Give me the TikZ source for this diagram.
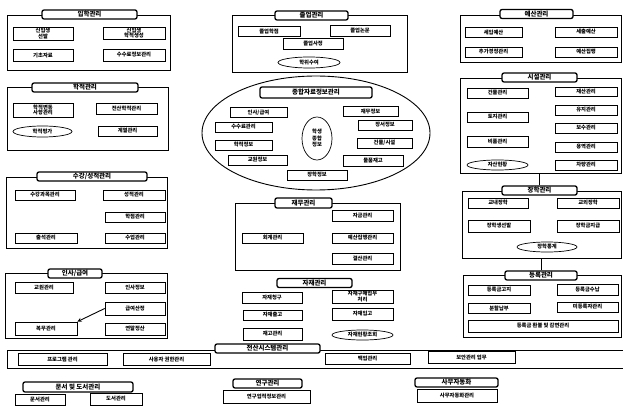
\documentclass[tikz,border=0pt]{standalone}
\usepackage{fontspec}
\newfontfamily\kr{Noto Sans CJK KR}
\usetikzlibrary{shapes.geometric}
\tikzset{
  frm/.style={draw, line width=0.9pt, inner sep=0pt},
  itm/.style={draw, line width=0.7pt, inner sep=0pt, align=center, fill=white,
     font=\kr\fontsize{5.3}{5.8}\selectfont\bfseries},
  ell/.style={itm, ellipse},
  ttl/.style={draw, line width=1.3pt, rounded corners=2pt, inner sep=0pt, fill=white,
     align=center, font=\kr\fontsize{6.5}{7}\selectfont\bfseries},
  conn/.style={line width=0.9pt}
}
\begin{document}
\begin{tikzpicture}[x=1pt,y=-1pt]
\useasboundingbox (0,0) rectangle (623,406);
% ---------- Box A ----------
\node[frm, minimum width=163, minimum height=55] (fA) at (88.5,42.5) {};
\node[ttl, minimum width=95, minimum height=9] (tA) at (89.5,14.5) {입학관리};
\node[itm, minimum width=60, minimum height=13] (a1) at (43,33.5) {신입생\\선발};
\node[itm, minimum width=62, minimum height=12] (a2) at (134,33) {신입생\\학적생성};
\node[itm, minimum width=60, minimum height=12] (a3) at (43,55.5) {기초자료};
\node[itm, minimum width=62, minimum height=12] (a4) at (134,55) {수수료정보관리};
% ---------- Box B ----------
\node[frm, minimum width=161, minimum height=63] (fB) at (87.5,118.5) {};
\node[ttl, minimum width=106, minimum height=9] (tB) at (85,87.5) {학적관리};
\node[itm, minimum width=60, minimum height=14] (b1) at (43,110) {학적변동\\사항관리};
\node[itm, minimum width=61, minimum height=11] (b2) at (126.5,108.5) {전산학적관리};
\node[ell, minimum width=59, minimum height=11] (b3) at (42.5,131.5) {학적평가};
\node[itm, minimum width=59, minimum height=10] (b4) at (127.5,131) {계열관리};
% ---------- Box C ----------
\node[frm, minimum width=161, minimum height=71] (fC) at (86.5,212.5) {};
\node[ttl, minimum width=110, minimum height=9] (tC) at (92,176.5) {수강/성적관리};
\node[itm, minimum width=60, minimum height=10] (c1) at (45,195) {수강과목관리};
\node[itm, minimum width=62, minimum height=10] (c2) at (134,195) {성적관리};
\node[itm, minimum width=60, minimum height=10] (c3) at (135,217) {학점관리};
\node[itm, minimum width=62, minimum height=10] (c4) at (46,238) {출석관리};
\node[itm, minimum width=60, minimum height=10] (c5) at (135,238) {수업관리};
% ---------- Box D ----------
\node[frm, minimum width=162, minimum height=65] (fD) at (86,305.5) {};
\node[ttl, minimum width=54, minimum height=9] (tD) at (75,273.5) {인사/급여};
\node[itm, minimum width=58, minimum height=11] (d1) at (44,287.5) {교원관리};
\node[itm, minimum width=60, minimum height=11] (d2) at (135,287.5) {인사정보};
\node[itm, minimum width=60, minimum height=13] (d3) at (135,308.5) {급여산정};
\node[itm, minimum width=62, minimum height=13] (d4) at (46,328.5) {복무관리};
\node[itm, minimum width=60, minimum height=12] (d5) at (135,329) {연말정산};
\draw[conn, ->, >=stealth] (d3.west) -- (d4.north east);
% ---------- Top centre ----------
\node[frm, minimum width=175, minimum height=57] (fE) at (319.5,43.5) {};
\node[ttl, minimum width=73, minimum height=9] (tE) at (311.5,15.5) {졸업관리};
\node[itm, minimum width=62, minimum height=10] (e1) at (269,31.5) {졸업학점};
\node[itm, minimum width=60, minimum height=11] (e2) at (360,30.5) {졸업논문};
\node[itm, minimum width=60, minimum height=11] (e3) at (313,44) {졸업사정};
\node[ell, minimum width=62, minimum height=11] (e4) at (309,62.5) {학위수여};
% ---------- Big ellipse ----------
\node[draw, ellipse, line width=0.9pt, minimum width=228, minimum height=114, inner sep=0pt] (G) at (316,133) {};
\node[ttl, minimum width=112, minimum height=11] (tG) at (316,92.5) {종합자료정보관리};
\node[itm, minimum width=57, minimum height=10] (g1) at (258.5,112.5) {인사/급여};
\node[itm, minimum width=57, minimum height=10] (g2) at (243.5,127) {수수료관리};
\node[itm, minimum width=57, minimum height=10] (g3) at (243.5,145) {학적정보};
\node[itm, minimum width=59, minimum height=10] (g4) at (257.5,160) {교원정보};
\node[itm, minimum width=55, minimum height=10] (g5) at (370.5,111.5) {재무정보};
\node[itm, minimum width=54, minimum height=10] (g6) at (385,125) {장서정보};
\node[itm, minimum width=55, minimum height=10] (g7) at (384.5,143) {건물/시설};
\node[itm, minimum width=60, minimum height=11] (g8) at (373,160.5) {물품재고};
\node[itm, minimum width=60, minimum height=10] (g9) at (317,175) {장학정보};
\node[ell, minimum width=30, minimum height=43, font=\kr\fontsize{5.3}{6.5}\selectfont\bfseries] (gc) at (317,138.5) {학생\\종합\\정보};
% ---------- Finance ----------
\node[frm, minimum width=165, minimum height=67] (fH) at (317.5,236.5) {};
\node[ttl, minimum width=57, minimum height=10] (tH) at (303.5,203) {재무관리};
\node[itm, minimum width=61, minimum height=10] (h1) at (272.5,238) {회계관리};
\node[itm, minimum width=61, minimum height=11] (h2) at (362.5,216) {자금관리};
\node[itm, minimum width=61, minimum height=10] (h3) at (362.5,238) {예산집행관리};
\node[itm, minimum width=61, minimum height=11] (h4) at (362.5,259) {결산관리};
% ---------- Materials ----------
\node[ttl, minimum width=75, minimum height=9] (tI) at (314.5,283) {자재관리};
\node[itm, minimum width=60, minimum height=11] (i1) at (272,297.5) {자재청구};
\node[itm, minimum width=61, minimum height=13] (i2) at (362.5,296.5) {자재구매업무\\처리};
\node[itm, minimum width=59, minimum height=10] (i3) at (272.5,315) {자재출고};
\node[itm, minimum width=61, minimum height=12] (i4) at (362.5,314) {자재입고};
\node[itm, minimum width=59, minimum height=12] (i5) at (272.5,334) {재고관리};
\node[ell, minimum width=61, minimum height=10] (i6) at (362.5,335) {자재현황조회};
% ---------- Bottom band ----------
\node[frm, minimum width=616, minimum height=18] (fJ) at (315,359) {};
\node[ttl, minimum width=105, minimum height=9] (tJ) at (267.5,348.5) {전산시스템관리};
\node[itm, minimum width=89, minimum height=12] (j1) at (62.5,359.5) {프로그램 관리};
\node[itm, minimum width=87, minimum height=12] (j2) at (166.5,359.5) {사용자 권한관리};
\node[itm, minimum width=85, minimum height=11] (j3) at (367.5,358.5) {백업관리};
\node[itm, minimum width=87, minimum height=12] (j4) at (471.5,357.5) {보안관리 업무};
% ---------- Bottom groups ----------
\node[ttl, minimum width=110, minimum height=10] (tK) at (78,387) {문서 및 도서관리};
\node[itm, minimum width=50, minimum height=11] (k1) at (40,399.5) {문서관리};
\node[itm, minimum width=52, minimum height=12] (k2) at (116,399) {도서관리};
\node[ttl, minimum width=69, minimum height=9] (tL) at (267.5,383.5) {연구관리};
\node[itm, minimum width=87, minimum height=13] (l1) at (266.5,397) {연구업적정보관리};
\node[ttl, minimum width=83, minimum height=9] (tM) at (456.5,382.5) {사무자동화};
\node[itm, minimum width=80, minimum height=13] (m1) at (457,396) {사무자동화관리};
% ---------- Right top ----------
\node[frm, minimum width=161, minimum height=47] (fN) at (540.5,38.5) {};
\node[ttl, minimum width=73, minimum height=9] (tN) at (536.5,14) {예산관리};
\node[itm, minimum width=57, minimum height=10] (n1) at (493.5,32.5) {세입예산};
\node[itm, minimum width=62, minimum height=10] (n2) at (586,32) {세출예산};
\node[itm, minimum width=57, minimum height=10] (n3) at (493.5,52) {추가경정관리};
\node[itm, minimum width=62, minimum height=10] (n4) at (586,52) {예산집행};
% ---------- Right 2 ----------
\node[frm, minimum width=161, minimum height=95] (fO) at (540.5,125.5) {};
\node[ttl, minimum width=75, minimum height=9] (tO) at (539.5,77.5) {시설관리};
\node[itm, minimum width=61, minimum height=10] (o1) at (497.5,93) {건물관리};
\node[itm, minimum width=61, minimum height=10] (o2) at (497.5,117) {토지관리};
\node[itm, minimum width=61, minimum height=11] (o3) at (497.5,141.5) {비품관리};
\node[ell, minimum width=61, minimum height=10] (o4) at (497.5,165) {자산현황};
\node[itm, minimum width=62, minimum height=9] (o5) at (586,91.5) {재산관리};
\node[itm, minimum width=62, minimum height=10] (o6) at (586,110) {유지관리};
\node[itm, minimum width=62, minimum height=10] (o7) at (586,128) {보수관리};
\node[itm, minimum width=62, minimum height=10] (o8) at (586,147) {용역관리};
\node[itm, minimum width=62, minimum height=10] (o9) at (586,165) {차량관리};
% ---------- Right 3 ----------
\node[frm, minimum width=159, minimum height=67] (fP) at (541.5,224.5) {};
\node[ttl, minimum width=75, minimum height=9] (tP) at (539.5,190.5) {장학관리};
\node[itm, minimum width=60, minimum height=10] (p1) at (498,203) {교내장학};
\node[itm, minimum width=62, minimum height=10] (p2) at (588,203) {교외장학};
\node[itm, minimum width=62, minimum height=12] (p3) at (499,226) {장학생선발};
\node[itm, minimum width=62, minimum height=12] (p4) at (588,226) {장학금지급};
\node[ell, minimum width=60, minimum height=10] (p5) at (547,247) {장학통계};
% ---------- Right 4 ----------
\node[frm, minimum width=158, minimum height=62] (fQ) at (542,306) {};
\node[ttl, minimum width=72, minimum height=9] (tQ) at (541,275.5) {등록관리};
\node[itm, minimum width=62, minimum height=10] (q1) at (499,290) {등록금고지};
\node[itm, minimum width=61, minimum height=11] (q2) at (587.5,289.5) {등록금수납};
\node[itm, minimum width=62, minimum height=10] (q3) at (499,308) {분할납부};
\node[itm, minimum width=61, minimum height=10] (q4) at (587.5,307) {미등록자관리};
\node[itm, minimum width=150, minimum height=12] (q5) at (543,326) {등록금 환불 및 감면관리};
% ---------- connectors ----------
\draw[conn] (tP.north) -- (tP.north |- fO.south);
\draw[conn] (tQ.north) -- (tQ.north |- fP.south);
\end{tikzpicture}
\end{document}
